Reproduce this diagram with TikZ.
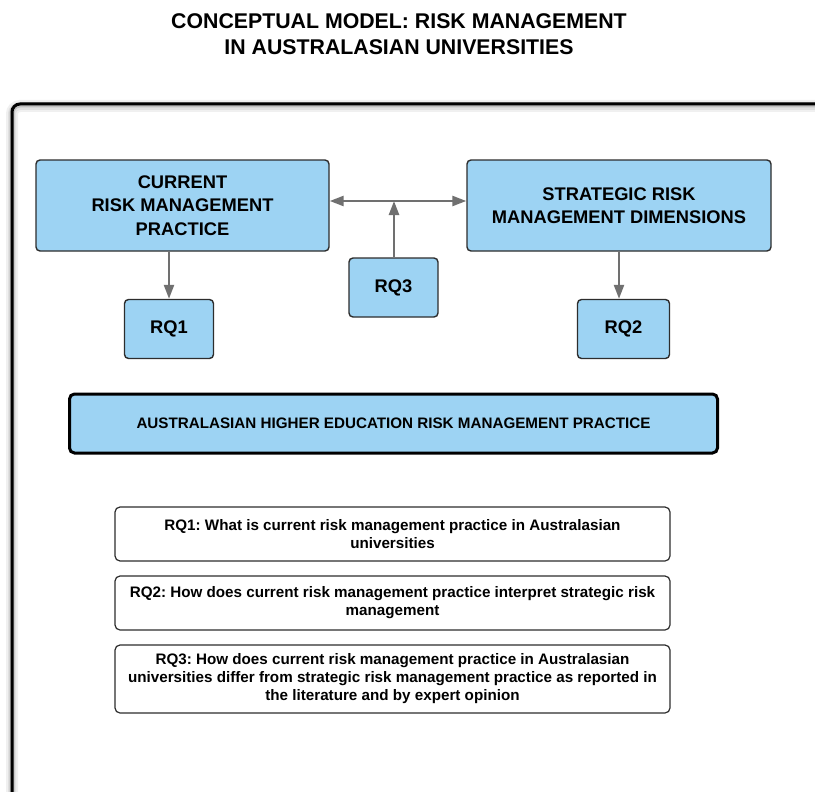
\documentclass[tikz,border=0pt]{standalone}
\usepackage{fontspec}
\setmainfont{Liberation Sans}
\usetikzlibrary{arrows.meta}
\frenchspacing

\definecolor{boxblue}{RGB}{157,211,243}
\definecolor{boxedge}{RGB}{45,45,45}
\definecolor{arrowgrey}{RGB}{112,112,112}

\tikzset{
  bluebox/.style={draw=boxedge, line width=1.4pt, fill=boxblue, rounded corners=4pt,
    align=center, inner sep=0pt, font=\bfseries\fontsize{18.3}{23.5}\selectfont},
  rqbox/.style={bluebox},
  mainbox/.style={draw=black, line width=3pt, fill=boxblue, rounded corners=5pt,
    align=center, inner sep=0pt, font=\bfseries\fontsize{15.2}{18}\selectfont},
  qbox/.style={draw=boxedge, line width=1.2pt, fill=white, rounded corners=5pt,
    align=center, inner sep=0pt, minimum width=555pt, font=\bfseries\fontsize{15.2}{18}\selectfont},
  link/.style={draw=arrowgrey, line width=2.4pt,
    -{Triangle[length=14pt,width=10pt]}},
  biglink/.style={draw=arrowgrey, line width=2.4pt,
    {Triangle[length=14pt,width=10pt]}-{Triangle[length=14pt,width=10pt]}},
}

\begin{document}
\begin{tikzpicture}[x=1pt,y=-1pt]
\useasboundingbox (0,0) rectangle (815,792);
\clip (0,0) rectangle (815,792);
\fill[white] (0,0) rectangle (815,792);

% title
\node[align=center, font=\bfseries\fontsize{21.3}{26}\selectfont] (title) at (399,34)
  {CONCEPTUAL MODEL: RISK MANAGEMENT\\IN AUSTRALASIAN UNIVERSITIES};

% outer frame with soft shadow
\draw[line width=12pt, black!6, rounded corners=8pt] (12,106) rectangle (840,820);
\draw[line width=8pt, black!12, rounded corners=8pt] (12,106) rectangle (840,820);
\draw[line width=5pt, black!25, rounded corners=8pt] (12,105) rectangle (840,820);
\draw[line width=3pt, black, rounded corners=8pt] (12,104) rectangle (840,820);

% upper boxes
\node[bluebox, minimum width=293pt, minimum height=91pt] (cur) at (182.5,205.5)
  {CURRENT\\RISK MANAGEMENT\\PRACTICE};
\node[bluebox, minimum width=304pt, minimum height=91pt] (srm) at (619,205.5)
  {STRATEGIC RISK\\MANAGEMENT DIMENSIONS};

\node[rqbox, minimum width=89pt, minimum height=59pt] (rq3) at (393.5,287.5) {RQ3};
\node[rqbox, minimum width=89pt, minimum height=59pt] (rq1) at (169,329) {RQ1};
\node[rqbox, minimum width=92pt, minimum height=59pt] (rq2) at (623.5,329) {RQ2};

% connectors
\coordinate (mid) at (394,201);
\draw[biglink] (cur.east |- mid) -- (srm.west |- mid);
\draw[link] (rq3.north -| mid) -- (mid);
\draw[link] (cur.south -| rq1) -- (rq1.north);
\draw[link] (srm.south) -- (srm.south |- rq2.north);

% main practice box
\node[mainbox, minimum width=648pt, minimum height=59pt] (ahe) at (393.5,423.5)
  {AUSTRALASIAN HIGHER EDUCATION RISK MANAGEMENT PRACTICE};

% research questions
\node[qbox, minimum height=54pt] (q1) at (392.5,534)
  {RQ1: What is current risk management practice in Australasian\\universities};
\node[qbox, minimum height=54pt] (q2) at (392.5,603)
  {RQ2: How does current risk management practice interpret strategic risk\\management};
\node[qbox, minimum height=68pt] (q3) at (392.5,679)
  {RQ3: How does current risk management practice in Australasian\\universities differ from strategic risk management practice as reported in\\the literature and by expert opinion};
\end{tikzpicture}
\end{document}
